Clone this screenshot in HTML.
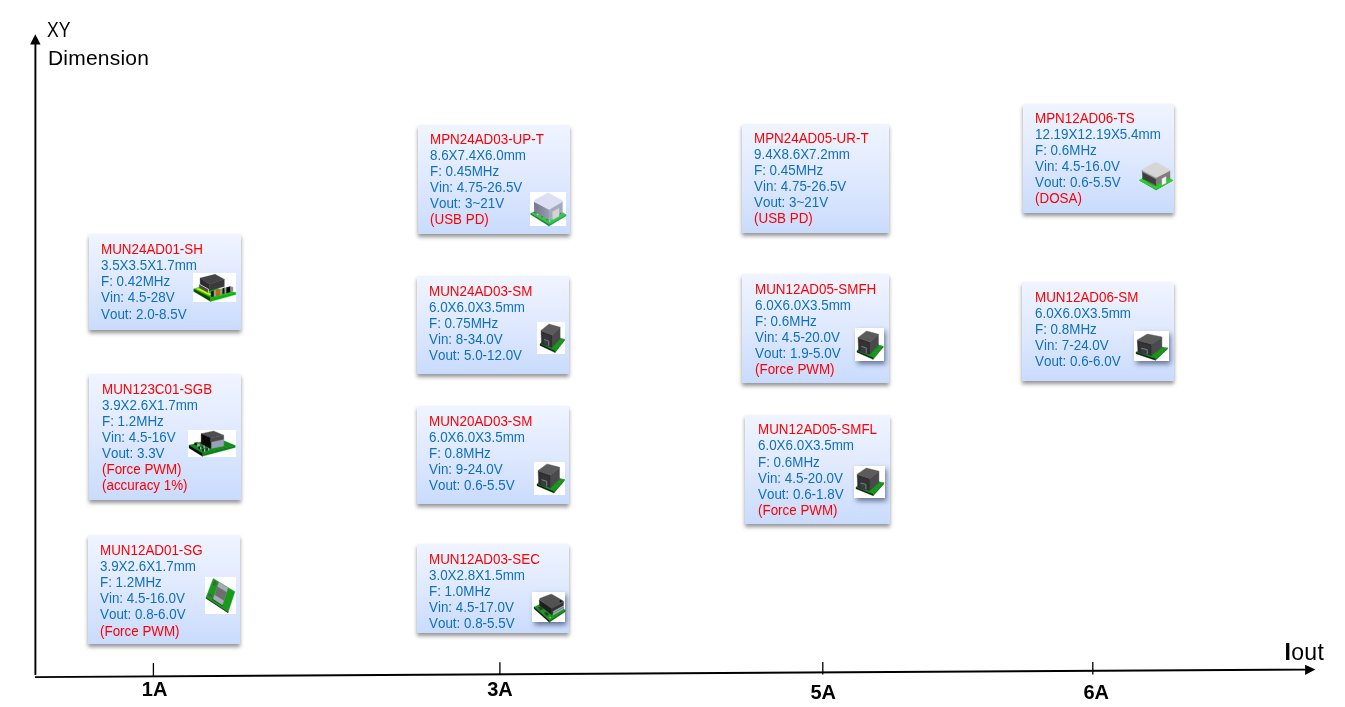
<!DOCTYPE html>
<html lang="en">
<head>
<meta charset="utf-8">
<title>XY Dimension vs Iout</title>
<style>
html,body{margin:0;padding:0;background:#fff;}
body{width:1345px;height:707px;position:relative;overflow:hidden;font-family:"Liberation Sans",sans-serif;}
.card{position:absolute;background:linear-gradient(180deg,#eff4ff 0%,#dfe9fe 50%,#c9dbfd 100%);box-shadow:0 2.5px 4px rgba(0,0,0,.42);}
.t{position:absolute;font-size:14.45px;line-height:16.08px;white-space:nowrap;color:#0f6fc0;font-kerning:none;transform:scaleX(.9273);transform-origin:0 0;}
.t div{height:16.08px;}
.r{color:#ff0000;}
.w{position:absolute;background:#fff;}
.ws{box-shadow:1.5px 3px 5px rgba(30,40,80,.6);}
svg{position:absolute;overflow:visible;}
.ax{position:absolute;left:0;top:0;}
.lbl{position:absolute;font-weight:bold;font-size:20px;line-height:20px;color:#000;white-space:nowrap;}
.ttl{position:absolute;font-size:21px;line-height:28px;color:#000;white-space:nowrap;}
</style>
</head>
<body>
<svg class="ax" width="1345" height="707" viewBox="0 0 1345 707">
<line x1="35.4" y1="40" x2="35.4" y2="675" stroke="#000" stroke-width="1.9"/>
<polygon points="35.3,34.3 40.6,44.6 30.1,44.6" fill="#000"/>
<line x1="34.9" y1="677.1" x2="1306" y2="669.6" stroke="#000" stroke-width="1.9"/>
<polygon points="1315.4,669.5 1305.1,664.7 1305.1,674.9" fill="#000"/>
<line x1="153.4" y1="663" x2="153.4" y2="676.5" stroke="#000" stroke-width="1.3"/>
<line x1="499.9" y1="662.3" x2="499.9" y2="675" stroke="#000" stroke-width="1.3"/>
<line x1="822.8" y1="662" x2="822.8" y2="674.5" stroke="#000" stroke-width="1.3"/>
<line x1="1092.8" y1="662" x2="1092.8" y2="674.5" stroke="#000" stroke-width="1.3"/>
</svg>
<div class="ttl" style="left:46.8px;top:16.3px;font-size:22px;transform:scaleX(.80);transform-origin:0 0">XY</div>
<div class="ttl" style="left:48px;top:43.5px;letter-spacing:.2px">Dimension</div>
<div class="ttl" style="left:1284.5px;top:637.9px;font-size:23px;line-height:28px;letter-spacing:.3px"><b>I</b>out</div>
<div class="lbl" style="left:141.8px;top:679.2px">1A</div>
<div class="lbl" style="left:487.2px;top:679.2px">3A</div>
<div class="lbl" style="left:810.5px;top:682.1px">5A</div>
<div class="lbl" style="left:1083.4px;top:682.1px">6A</div>
<div class="card" style="left:89px;top:234px;width:152px;height:96px"></div>
<div class="card" style="left:89px;top:374px;width:152px;height:126px"></div>
<div class="card" style="left:88px;top:535px;width:152px;height:109px"></div>
<div class="card" style="left:418px;top:125px;width:152px;height:109px"></div>
<div class="card" style="left:417px;top:276px;width:152px;height:98px"></div>
<div class="card" style="left:417px;top:406px;width:152px;height:98px"></div>
<div class="card" style="left:417px;top:544px;width:152px;height:89px"></div>
<div class="card" style="left:742px;top:124px;width:147px;height:109px"></div>
<div class="card" style="left:742px;top:274px;width:147px;height:109px"></div>
<div class="card" style="left:745px;top:415px;width:145px;height:109px"></div>
<div class="card" style="left:1023px;top:104px;width:151px;height:109px"></div>
<div class="card" style="left:1022px;top:282px;width:152px;height:99px"></div>
<div class="t" style="left:100.9px;top:241.25px"><div class="r">MUN24AD01-SH</div><div>3.5X3.5X1.7mm</div><div>F: 0.42MHz</div><div>Vin: 4.5-28V</div><div>Vout: 2.0-8.5V</div></div>
<div class="t" style="left:101.8px;top:380.75px"><div class="r">MUN123C01-SGB</div><div>3.9X2.6X1.7mm</div><div>F: 1.2MHz</div><div>Vin: 4.5-16V</div><div>Vout: 3.3V</div><div class="r">(Force PWM)</div><div class="r">(accuracy 1%)</div></div>
<div class="t" style="left:100.3px;top:542.15px"><div class="r">MUN12AD01-SG</div><div>3.9X2.6X1.7mm</div><div>F: 1.2MHz</div><div>Vin: 4.5-16.0V</div><div>Vout: 0.8-6.0V</div><div class="r">(Force PWM)</div></div>
<div class="t" style="left:429.8px;top:130.95px"><div class="r">MPN24AD03-UP-T</div><div>8.6X7.4X6.0mm</div><div>F: 0.45MHz</div><div>Vin: 4.75-26.5V</div><div>Vout: 3~21V</div><div class="r">(USB PD)</div></div>
<div class="t" style="left:429.2px;top:282.85px"><div class="r">MUN24AD03-SM</div><div>6.0X6.0X3.5mm</div><div>F: 0.75MHz</div><div>Vin: 8-34.0V</div><div>Vout: 5.0-12.0V</div></div>
<div class="t" style="left:429.3px;top:412.55px"><div class="r">MUN20AD03-SM</div><div>6.0X6.0X3.5mm</div><div>F: 0.8MHz</div><div>Vin: 9-24.0V</div><div>Vout: 0.6-5.5V</div></div>
<div class="t" style="left:429px;top:551.05px"><div class="r">MUN12AD03-SEC</div><div>3.0X2.8X1.5mm</div><div>F: 1.0MHz</div><div>Vin: 4.5-17.0V</div><div>Vout: 0.8-5.5V</div></div>
<div class="t" style="left:754.4px;top:129.95px"><div class="r">MPN24AD05-UR-T</div><div>9.4X8.6X7.2mm</div><div>F: 0.45MHz</div><div>Vin: 4.75-26.5V</div><div>Vout: 3~21V</div><div class="r">(USB PD)</div></div>
<div class="t" style="left:754.7px;top:280.95px"><div class="r">MUN12AD05-SMFH</div><div>6.0X6.0X3.5mm</div><div>F: 0.6MHz</div><div>Vin: 4.5-20.0V</div><div>Vout: 1.9-5.0V</div><div class="r">(Force PWM)</div></div>
<div class="t" style="left:757.5px;top:421.35px"><div class="r">MUN12AD05-SMFL</div><div>6.0X6.0X3.5mm</div><div>F: 0.6MHz</div><div>Vin: 4.5-20.0V</div><div>Vout: 0.6-1.8V</div><div class="r">(Force PWM)</div></div>
<div class="t" style="left:1035.1px;top:109.55px"><div class="r">MPN12AD06-TS</div><div>12.19X12.19X5.4mm</div><div>F: 0.6MHz</div><div>Vin: 4.5-16.0V</div><div>Vout: 0.6-5.5V</div><div class="r">(DOSA)</div></div>
<div class="t" style="left:1034.7px;top:288.85px"><div class="r">MUN12AD06-SM</div><div>6.0X6.0X3.5mm</div><div>F: 0.8MHz</div><div>Vin: 7-24.0V</div><div>Vout: 0.6-6.0V</div></div>
<!-- icon 1 : MUN24AD01-SH -->
<div class="w" style="left:192.8px;top:273px;width:43.1px;height:29px"></div>
<svg style="left:192.8px;top:273px" width="43.1" height="29" viewBox="123 125 677 455" preserveAspectRatio="none">
<polygon points="135,375 300,320 795,430 400,510" fill="#14c414" stroke="#14c414" stroke-width="5" stroke-linejoin="round"/>
<polygon points="135,375 400,510 400,574 135,414" fill="#064c06" stroke="#064c06" stroke-width="5" stroke-linejoin="round"/>
<polygon points="400,510 795,432 795,464 400,574" fill="#10b010" stroke="#10b010" stroke-width="5" stroke-linejoin="round"/>
<polygon points="175,374 210,364 415,458 385,476" fill="#f2e800" stroke="#f2e800" stroke-width="5" stroke-linejoin="round"/>
<polygon points="235,205 470,145 615,225 380,300" fill="#444" stroke="#444" stroke-width="5" stroke-linejoin="round"/>
<polygon points="235,205 380,300 380,405 235,312" fill="#2c2c2c" stroke="#2c2c2c" stroke-width="5" stroke-linejoin="round"/>
<polygon points="380,300 615,225 615,335 380,405" fill="#3a3a3a" stroke="#3a3a3a" stroke-width="5" stroke-linejoin="round"/>
<polygon points="222,300 365,378 365,436 222,352" fill="#4a4a50" stroke="#4a4a50" stroke-width="5" stroke-linejoin="round"/>
<polyline points="222,300 365,378 365,436" fill="none" stroke="#f8f8f8" stroke-width="11"/>
<polygon points="408,414 452,402 452,488 408,500" fill="#101010" stroke="#101010" stroke-width="5" stroke-linejoin="round"/>
<polygon points="452,402 484,394 484,482 452,490" fill="#a0a0a0" stroke="#a0a0a0" stroke-width="5" stroke-linejoin="round"/>
<polygon points="484,396 548,382 548,468 484,482" fill="#c8640a" stroke="#c8640a" stroke-width="5" stroke-linejoin="round"/>
<polygon points="548,378 584,370 584,458 548,468" fill="#9a9a9a" stroke="#9a9a9a" stroke-width="5" stroke-linejoin="round"/>
<polygon points="590,364 622,358 622,444 590,452" fill="#101010" stroke="#101010" stroke-width="5" stroke-linejoin="round"/>
<polygon points="622,358 648,352 648,438 622,444" fill="#a8a8a8" stroke="#a8a8a8" stroke-width="5" stroke-linejoin="round"/>
<polygon points="648,352 712,338 712,422 648,438" fill="#0a0a0a" stroke="#0a0a0a" stroke-width="5" stroke-linejoin="round"/>
<polygon points="712,338 752,350 752,410 712,422" fill="#8c8c8c" stroke="#8c8c8c" stroke-width="5" stroke-linejoin="round"/>
</svg>
<!-- icon 2 : MUN123C01-SGB -->
<div class="w" style="left:188px;top:430px;width:48px;height:27px"></div>
<svg style="left:187.8px;top:430px" width="48.2" height="26.9" viewBox="123 157 757 423" preserveAspectRatio="none">
<polygon points="139,395 320,345 700,330 865,400 348,526" fill="#0f8f1c" stroke="#0f8f1c" stroke-width="5" stroke-linejoin="round"/>
<polygon points="348,524 865,400 865,432 348,571" fill="#0c8016" stroke="#0c8016" stroke-width="5" stroke-linejoin="round"/>
<polygon points="139,395 348,524 348,571 139,439" fill="#040a04" stroke="#040a04" stroke-width="5" stroke-linejoin="round"/>
<polygon points="330,215 525,172 685,240 480,282" fill="#4e4e4e" stroke="#4e4e4e" stroke-width="5" stroke-linejoin="round"/>
<polygon points="330,215 480,282 480,448 330,372" fill="#080808" stroke="#080808" stroke-width="5" stroke-linejoin="round"/>
<polygon points="480,282 685,240 685,322 480,350" fill="#4a4a4c" stroke="#4a4a4c" stroke-width="5" stroke-linejoin="round"/>
<polygon points="495,348 685,306 685,410 495,448" fill="#9aa0ba" stroke="#9aa0ba" stroke-width="5" stroke-linejoin="round"/>
<rect x="223" y="354" width="42" height="42" fill="#15100c"/><rect x="246" y="349" width="34" height="20" fill="#8a4a1a"/><rect x="268" y="374" width="40" height="46" fill="#a9a4c4"/>
<rect x="286" y="417" width="30" height="40" fill="#0c0c10"/><rect x="312" y="421" width="20" height="40" fill="#b4b0d0"/>
<rect x="336" y="410" width="42" height="34" fill="#3a2e40"/><rect x="364" y="402" width="24" height="36" fill="#a9a4c4"/>
<rect x="348" y="457" width="30" height="36" fill="#0c0c10"/><rect x="372" y="452" width="22" height="44" fill="#b4b0d0"/>
<rect x="398" y="443" width="46" height="40" fill="#3a2e40"/><rect x="438" y="442" width="18" height="38" fill="#a9a4c4"/>
</svg>
<!-- icon 3 : MUN12AD01-SG -->
<div class="w" style="left:205px;top:577px;width:31.2px;height:37px"></div>
<svg style="left:205px;top:577px" width="31.2" height="37" viewBox="118 142 367 436" preserveAspectRatio="none">
<polygon points="128,392 388,562 394,552 134,382" fill="#101010" stroke="#101010" stroke-width="5" stroke-linejoin="round"/>
<polygon points="215,160 470,315 390,555 130,385" fill="#169c1a" stroke="#169c1a" stroke-width="5" stroke-linejoin="round"/>
<polygon points="208,398 316,470 322,478 212,406" fill="#151515" stroke="#151515" stroke-width="5" stroke-linejoin="round"/>
<polygon points="282,205 388,270 322,472 215,402" fill="#a9a9bb" stroke="#a9a9bb" stroke-width="5" stroke-linejoin="round"/>
<polygon points="262,258 372,322 342,418 234,352" fill="#6e6e6e" stroke="#6e6e6e" stroke-width="5" stroke-linejoin="round"/>
<polygon points="226,190 248,202 236,248 214,236" fill="#55555f" stroke="#55555f" stroke-width="5" stroke-linejoin="round"/>
<polygon points="166,332 202,354 196,378 160,356" fill="#55555f" stroke="#55555f" stroke-width="5" stroke-linejoin="round"/>
</svg>
<!-- icon 4 : MPN24AD03-UP-T -->
<div class="w" style="left:529.9px;top:191.9px;width:36.2px;height:34.1px"></div>
<svg style="left:529.9px;top:191.9px" width="36.2" height="34.1" viewBox="140 98 512 482" preserveAspectRatio="none">
<polygon points="150,400 210,370 600,385 650,420 410,556" fill="#35c455" stroke="#35c455" stroke-width="5" stroke-linejoin="round"/>
<polygon points="150,400 410,556 410,580 150,416" fill="#0f7a2a" stroke="#0f7a2a" stroke-width="5" stroke-linejoin="round"/>
<polygon points="410,556 650,420 650,436 410,580" fill="#1fa03e" stroke="#1fa03e" stroke-width="5" stroke-linejoin="round"/>
<linearGradient id="g4" x1="0" x2="1" y1="0" y2="0"><stop offset="0" stop-color="#74788e"/><stop offset="1" stop-color="#979bb1"/></linearGradient><polygon points="196,232 410,345 410,492 200,386" fill="url(#g4)"/>
<polygon points="410,345 600,232 600,380 410,492" fill="#a6aac0" stroke="#a6aac0" stroke-width="5" stroke-linejoin="round"/>
<path d="M196,228 Q196,218 206,212 L385,114 Q397,108 409,114 L592,214 Q602,222 600,234 L420,340 Q410,346 400,340 L204,238 Q196,234 196,228Z" fill="#dcdff4" stroke="#dcdff4" stroke-width="5" stroke-linejoin="round"/>
<polygon points="460,376 550,326 550,440 460,490" fill="#d4d4d4" stroke="#d4d4d4" stroke-width="5" stroke-linejoin="round"/>
<circle cx="208" cy="392" r="11" fill="#a0440c"/><circle cx="312" cy="448" r="11" fill="#a0440c"/><circle cx="380" cy="490" r="11" fill="#a0440c"/><circle cx="570" cy="400" r="9" fill="#a0440c"/>
<circle cx="250" cy="415" r="8" fill="#e8e8f0"/><circle cx="420" cy="508" r="9" fill="#e8e8f0"/><circle cx="440" cy="480" r="8" fill="#e8e8f0"/>
</svg>
<!-- SM modules -->
<div class="w" style="left:537px;top:322px;width:28px;height:32px"></div>
<svg style="left:539.8px;top:324.4px" width="24.5" height="28.4" viewBox="190 185 315 365" preserveAspectRatio="none">
<polygon points="190,440 300,330 505,380 385,532" fill="#119a14" stroke="#119a14" stroke-width="5" stroke-linejoin="round"/>
<polygon points="190,440 385,532 385,552 190,460" fill="#052405" stroke="#052405" stroke-width="5" stroke-linejoin="round"/>
<polygon points="385,532 505,380 505,396 385,552" fill="#0b7510" stroke="#0b7510" stroke-width="5" stroke-linejoin="round"/>
<polygon points="203,272 346,326 346,486 210,442" fill="#2b2b2b" stroke="#2b2b2b" stroke-width="5" stroke-linejoin="round"/>
<polygon points="346,326 449,228 449,374 346,486" fill="#4b494d" stroke="#4b494d" stroke-width="5" stroke-linejoin="round"/>
<path d="M203,268 L298,190 Q306,184 316,188 L442,224 Q452,228 446,236 L352,322 Q346,328 336,324 L208,276Z" fill="#5b5b5b" stroke="#5b5b5b" stroke-width="5" stroke-linejoin="round"/>
<polygon points="224,304 330,342 330,472 228,438" fill="#343434" stroke="#343434" stroke-width="5" stroke-linejoin="round"/>
<polygon points="240,378 306,400 306,476 240,454" fill="#3a3a42" stroke="#3a3a42" stroke-width="5" stroke-linejoin="round"/>
<polyline points="242,384 302,404 302,472" fill="none" stroke="#8d93ab" stroke-width="9"/>
<circle cx="418" cy="462" r="8" fill="#6a7a6a"/><circle cx="453" cy="418" r="8" fill="#6a7a6a"/><circle cx="483" cy="386" r="7" fill="#6a7a6a"/>
</svg>
<div class="w" style="left:534px;top:462px;width:31px;height:33px"></div>
<svg style="left:536.5px;top:464.3px" width="27.4" height="28.8" viewBox="190 185 315 365" preserveAspectRatio="none">
<polygon points="190,440 300,330 505,380 385,532" fill="#119a14" stroke="#119a14" stroke-width="5" stroke-linejoin="round"/>
<polygon points="190,440 385,532 385,552 190,460" fill="#052405" stroke="#052405" stroke-width="5" stroke-linejoin="round"/>
<polygon points="385,532 505,380 505,396 385,552" fill="#0b7510" stroke="#0b7510" stroke-width="5" stroke-linejoin="round"/>
<polygon points="203,272 346,326 346,486 210,442" fill="#2b2b2b" stroke="#2b2b2b" stroke-width="5" stroke-linejoin="round"/>
<polygon points="346,326 449,228 449,374 346,486" fill="#4b494d" stroke="#4b494d" stroke-width="5" stroke-linejoin="round"/>
<path d="M203,268 L298,190 Q306,184 316,188 L442,224 Q452,228 446,236 L352,322 Q346,328 336,324 L208,276Z" fill="#5b5b5b" stroke="#5b5b5b" stroke-width="5" stroke-linejoin="round"/>
<polygon points="224,304 330,342 330,472 228,438" fill="#343434" stroke="#343434" stroke-width="5" stroke-linejoin="round"/>
<polygon points="240,378 306,400 306,476 240,454" fill="#3a3a42" stroke="#3a3a42" stroke-width="5" stroke-linejoin="round"/>
<polyline points="242,384 302,404 302,472" fill="none" stroke="#8d93ab" stroke-width="9"/>
<circle cx="418" cy="462" r="8" fill="#6a7a6a"/><circle cx="453" cy="418" r="8" fill="#6a7a6a"/><circle cx="483" cy="386" r="7" fill="#6a7a6a"/>
</svg>
<div class="w ws" style="left:855px;top:328px;width:29px;height:32.5px"></div>
<svg style="left:857.1px;top:330.5px" width="26.1" height="28.2" viewBox="190 185 315 365" preserveAspectRatio="none">
<polygon points="190,440 300,330 505,380 385,532" fill="#119a14" stroke="#119a14" stroke-width="5" stroke-linejoin="round"/>
<polygon points="190,440 385,532 385,552 190,460" fill="#052405" stroke="#052405" stroke-width="5" stroke-linejoin="round"/>
<polygon points="385,532 505,380 505,396 385,552" fill="#0b7510" stroke="#0b7510" stroke-width="5" stroke-linejoin="round"/>
<polygon points="203,272 346,326 346,486 210,442" fill="#2b2b2b" stroke="#2b2b2b" stroke-width="5" stroke-linejoin="round"/>
<polygon points="346,326 449,228 449,374 346,486" fill="#4b494d" stroke="#4b494d" stroke-width="5" stroke-linejoin="round"/>
<path d="M203,268 L298,190 Q306,184 316,188 L442,224 Q452,228 446,236 L352,322 Q346,328 336,324 L208,276Z" fill="#5b5b5b" stroke="#5b5b5b" stroke-width="5" stroke-linejoin="round"/>
<polygon points="224,304 330,342 330,472 228,438" fill="#343434" stroke="#343434" stroke-width="5" stroke-linejoin="round"/>
<polygon points="240,378 306,400 306,476 240,454" fill="#3a3a42" stroke="#3a3a42" stroke-width="5" stroke-linejoin="round"/>
<polyline points="242,384 302,404 302,472" fill="none" stroke="#8d93ab" stroke-width="9"/>
<circle cx="418" cy="462" r="8" fill="#6a7a6a"/><circle cx="453" cy="418" r="8" fill="#6a7a6a"/><circle cx="483" cy="386" r="7" fill="#6a7a6a"/>
</svg>
<div class="w ws" style="left:854px;top:466px;width:31px;height:32px"></div>
<svg style="left:856.3px;top:468.4px" width="27.9" height="27.5" viewBox="190 185 315 365" preserveAspectRatio="none">
<polygon points="190,440 300,330 505,380 385,532" fill="#119a14" stroke="#119a14" stroke-width="5" stroke-linejoin="round"/>
<polygon points="190,440 385,532 385,552 190,460" fill="#052405" stroke="#052405" stroke-width="5" stroke-linejoin="round"/>
<polygon points="385,532 505,380 505,396 385,552" fill="#0b7510" stroke="#0b7510" stroke-width="5" stroke-linejoin="round"/>
<polygon points="203,272 346,326 346,486 210,442" fill="#2b2b2b" stroke="#2b2b2b" stroke-width="5" stroke-linejoin="round"/>
<polygon points="346,326 449,228 449,374 346,486" fill="#4b494d" stroke="#4b494d" stroke-width="5" stroke-linejoin="round"/>
<path d="M203,268 L298,190 Q306,184 316,188 L442,224 Q452,228 446,236 L352,322 Q346,328 336,324 L208,276Z" fill="#5b5b5b" stroke="#5b5b5b" stroke-width="5" stroke-linejoin="round"/>
<polygon points="224,304 330,342 330,472 228,438" fill="#343434" stroke="#343434" stroke-width="5" stroke-linejoin="round"/>
<polygon points="240,378 306,400 306,476 240,454" fill="#3a3a42" stroke="#3a3a42" stroke-width="5" stroke-linejoin="round"/>
<polyline points="242,384 302,404 302,472" fill="none" stroke="#8d93ab" stroke-width="9"/>
<circle cx="418" cy="462" r="8" fill="#6a7a6a"/><circle cx="453" cy="418" r="8" fill="#6a7a6a"/><circle cx="483" cy="386" r="7" fill="#6a7a6a"/>
</svg>
<div class="w ws" style="left:1134px;top:331px;width:35px;height:30px"></div>
<svg style="left:1136.3px;top:333.6px" width="31.5" height="26.1" viewBox="190 185 315 365" preserveAspectRatio="none">
<polygon points="190,440 300,330 505,380 385,532" fill="#119a14" stroke="#119a14" stroke-width="5" stroke-linejoin="round"/>
<polygon points="190,440 385,532 385,552 190,460" fill="#052405" stroke="#052405" stroke-width="5" stroke-linejoin="round"/>
<polygon points="385,532 505,380 505,396 385,552" fill="#0b7510" stroke="#0b7510" stroke-width="5" stroke-linejoin="round"/>
<polygon points="203,272 346,326 346,486 210,442" fill="#2b2b2b" stroke="#2b2b2b" stroke-width="5" stroke-linejoin="round"/>
<polygon points="346,326 449,228 449,374 346,486" fill="#4b494d" stroke="#4b494d" stroke-width="5" stroke-linejoin="round"/>
<path d="M203,268 L298,190 Q306,184 316,188 L442,224 Q452,228 446,236 L352,322 Q346,328 336,324 L208,276Z" fill="#5b5b5b" stroke="#5b5b5b" stroke-width="5" stroke-linejoin="round"/>
<polygon points="224,304 330,342 330,472 228,438" fill="#343434" stroke="#343434" stroke-width="5" stroke-linejoin="round"/>
<polygon points="240,378 306,400 306,476 240,454" fill="#3a3a42" stroke="#3a3a42" stroke-width="5" stroke-linejoin="round"/>
<polyline points="242,384 302,404 302,472" fill="none" stroke="#8d93ab" stroke-width="9"/>
<circle cx="418" cy="462" r="8" fill="#6a7a6a"/><circle cx="453" cy="418" r="8" fill="#6a7a6a"/><circle cx="483" cy="386" r="7" fill="#6a7a6a"/>
</svg>
<!-- icon 7 : MUN12AD03-SEC -->
<div class="w ws" style="left:531.8px;top:591.8px;width:33.3px;height:30.2px"></div>
<svg style="left:531.8px;top:591.8px" width="33.3" height="30.2" viewBox="152 152 428 388" preserveAspectRatio="none">
<polygon points="180,345 260,305 540,340 578,385 375,520" fill="#169c1a" stroke="#169c1a" stroke-width="5" stroke-linejoin="round"/>
<polygon points="180,345 375,520 375,540 180,366" fill="#061006" stroke="#061006" stroke-width="5" stroke-linejoin="round"/>
<polygon points="375,520 578,385 578,406 375,540" fill="#0c6a10" stroke="#0c6a10" stroke-width="5" stroke-linejoin="round"/>
<polygon points="245,252 405,362 405,444 250,324" fill="#1e1e1e" stroke="#1e1e1e" stroke-width="5" stroke-linejoin="round"/>
<polygon points="405,362 560,278 556,334 405,444" fill="#343434" stroke="#343434" stroke-width="5" stroke-linejoin="round"/>
<path d="M250,246 Q246,238 256,232 L392,182 Q402,178 412,184 L552,266 Q562,274 554,282 L414,358 Q404,364 394,358 L254,254Z" fill="#525252" stroke="#525252" stroke-width="5" stroke-linejoin="round"/>
<circle cx="520" cy="272" r="14" fill="#0a0a0a"/>
<polygon points="425,402 556,330 556,372 425,446" fill="#b2b6cc" stroke="#b2b6cc" stroke-width="5" stroke-linejoin="round"/>
<polygon points="425,418 556,346 556,354 425,426" fill="#6a6e84" stroke="#6a6e84" stroke-width="5" stroke-linejoin="round"/>
<polygon points="232,352 262,342 292,372 262,386" fill="#3a2e4a" stroke="#3a2e4a" stroke-width="5" stroke-linejoin="round"/>
<polygon points="310,422 340,412 370,440 340,456" fill="#3a2e4a" stroke="#3a2e4a" stroke-width="5" stroke-linejoin="round"/>
<circle cx="385" cy="483" r="10" fill="#e8e000"/>
</svg>
<!-- icon 11 : MPN12AD06-TS -->
<svg style="left:1139px;top:161.8px" width="34.3" height="27.9" viewBox="180 152 440 358" preserveAspectRatio="none">
<polygon points="185,387 400,510 615,387 400,500" fill="#7a3a7a" stroke="#7a3a7a" stroke-width="5" stroke-linejoin="round"/>
<polygon points="185,385 230,358 575,360 615,385 400,506" fill="#12e012" stroke="#12e012" stroke-width="5" stroke-linejoin="round"/>
<polygon points="222,258 400,352 400,458 226,366" fill="#3e3e3e" stroke="#3e3e3e" stroke-width="5" stroke-linejoin="round"/>
<polygon points="400,352 578,260 578,362 400,458" fill="#7e7e7e" stroke="#7e7e7e" stroke-width="5" stroke-linejoin="round"/>
<polygon points="222,258 400,352 400,372 222,278" fill="#8e8e8e" stroke="#8e8e8e" stroke-width="5" stroke-linejoin="round"/>
<polygon points="290,400 380,445 380,458 290,412" fill="#6a6a6a" stroke="#6a6a6a" stroke-width="5" stroke-linejoin="round"/>
<path d="M222,256 Q218,248 228,242 L384,160 Q396,154 408,160 L570,248 Q582,256 574,264 L412,348 Q400,354 388,348 L228,264Z" fill="#d6d6d6" stroke="#d6d6d6" stroke-width="5" stroke-linejoin="round"/>
<polygon points="476,366 526,340 526,420 476,446" fill="#f6f6f6" stroke="#f6f6f6" stroke-width="5" stroke-linejoin="round"/>
</svg>
</body>
</html>
